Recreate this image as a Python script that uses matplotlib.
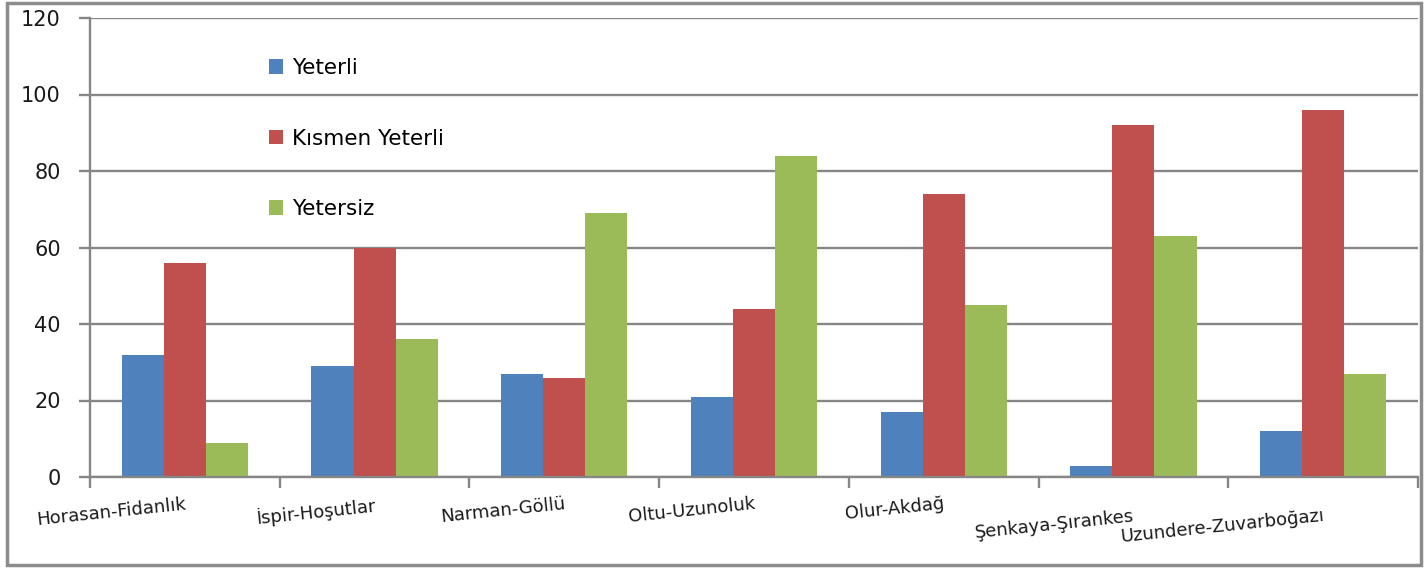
import matplotlib.pyplot as plt
import matplotlib.transforms as mtransforms
from matplotlib.patches import Rectangle
import numpy as np

plt.rcParams['font.family'] = ['DejaVu Sans']

# data
stations = ["Horasan-Fidanlık", "İspir-Hoşutlar", "Narman-Göllü", "Oltu-Uzunoluk",
            "Olur-Akdağ", "Şenkaya-Şırankes", "Uzundere-Zuvarboğazı"]
yeterli = [32, 29, 27, 21, 17, 3, 12]
kismen = [56, 60, 26, 44, 74, 92, 96]
yetersiz = [9, 36, 69, 84, 45, 63, 27]
series_names = ["Yeterli", "Kısmen Yeterli", "Yetersiz"]
colors = ["#4F81BD", "#C0504D", "#9BBB59"]
grey = "#868686"

fig = plt.figure(figsize=(14.24, 5.68), dpi=100)
ax = fig.add_axes([90 / 1424, 1 - 477 / 568, 1328 / 1424, 459 / 568])

x = np.arange(len(stations))
w = 0.222
for i, (vals, name, c) in enumerate(zip([yeterli, kismen, yetersiz], series_names, colors)):
    ax.bar(x + (i - 1) * w, vals, width=w, color=c, label=name, zorder=2)

ax.set_xlim(-0.5, len(stations) - 0.5)
ax.set_ylim(0, 120)
ax.set_yticks(range(0, 121, 20))
ax.yaxis.grid(True, color=grey, linewidth=1.7, zorder=0)
ax.set_axisbelow(True)

for s in ["top", "right"]:
    ax.spines[s].set_visible(False)
for s in ["left", "bottom"]:
    ax.spines[s].set_color(grey)
    ax.spines[s].set_linewidth(1.7)

ax.tick_params(axis="y", direction="out", length=8, width=1.7, color=grey,
               labelsize=15, pad=13, labelcolor="#1a1a1a")

# tick marks between groups, labels at group centres
ax.set_xticks(x)
ax.set_xticks(np.arange(-0.5, len(stations)), minor=True)
ax.tick_params(axis="x", which="major", length=0, pad=13, labelsize=13)
ax.tick_params(axis="x", which="minor", direction="out", length=8, width=1.7, color=grey)
ax.set_xticklabels(stations, rotation=6, ha="right", rotation_mode="anchor", color="#1a1a1a")

# last two labels sit a little lower in the original
for lab, dy in zip(ax.get_xticklabels(), [0, 0, 0, 0, 0, 12, 12]):
    if dy:
        off = mtransforms.ScaledTranslation(0, -dy / 100, fig.dpi_scale_trans)
        lab.set_transform(lab.get_transform() + off)

leg = ax.legend(loc="upper left", bbox_to_anchor=(0.12, 0.955), frameon=False,
                fontsize=15.5, handlelength=0.65, handleheight=0.65, handletextpad=0.45,
                labelspacing=2.35)

# outer chart border
fig.patches.append(Rectangle((7 / 1424, 3 / 568), 1414 / 1424, 562 / 568,
                             transform=fig.transFigure, fill=False,
                             edgecolor="#8c8c8c", linewidth=2.5))

fig.savefig("out.png", dpi=100)
